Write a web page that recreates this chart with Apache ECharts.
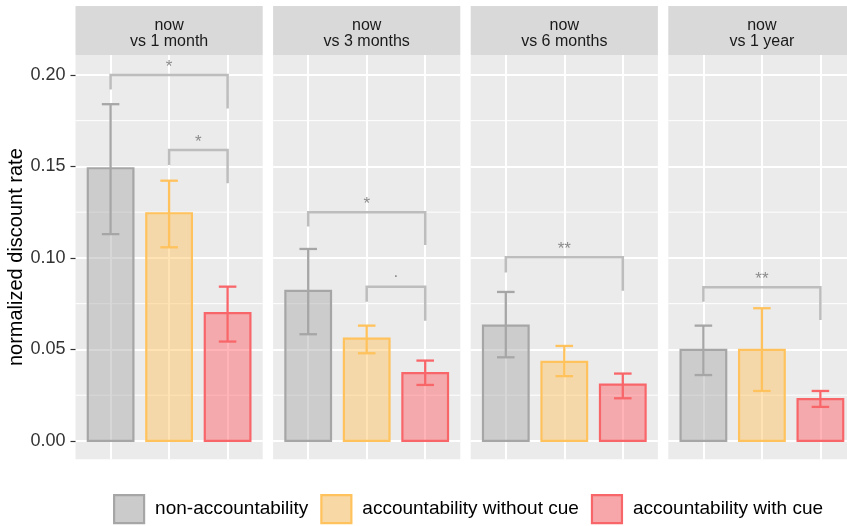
<!DOCTYPE html>
<html>
<head>
<meta charset="utf-8">
<title>normalized discount rate</title>
<script src="https://cdn.jsdelivr.net/npm/echarts@6/dist/echarts.min.js"></script>
<style>
  html, body { margin: 0; padding: 0; background: #ffffff; }
  #chart { width: 847px; height: 526px; }
</style>
</head>
<body>
<div id="chart"></div>
<script>
// Facet labels and the three conditions
const panels = ['now\nvs 1 month', 'now\nvs 3 months', 'now\nvs 6 months', 'now\nvs 1 year'];
const groups = ['non-accountability', 'accountability without cue', 'accountability with cue'];

// Mean normalized discount rate per facet, with error-bar bounds
const meanNon   = [0.149, 0.082, 0.063, 0.0497];
const lowNon    = [0.113, 0.0583, 0.0457, 0.036];
const highNon   = [0.184, 0.1049, 0.0814, 0.063];
const meanNoCue = [0.1244, 0.0559, 0.0432, 0.0497];
const lowNoCue  = [0.1058, 0.0479, 0.0354, 0.0273];
const highNoCue = [0.1422, 0.063, 0.0519, 0.0725];
const meanCue   = [0.0698, 0.037, 0.0308, 0.0228];
const lowCue    = [0.0543, 0.0306, 0.0233, 0.0186];
const highCue   = [0.0843, 0.0439, 0.0368, 0.0273];

// Significance brackets: facet, compared groups (1-based), bar height, leg ends, label
const bracketPanel    = [0, 0, 1, 1, 2, 3];
const bracketFrom     = [1, 2, 1, 2, 1, 1];
const bracketTo       = [3, 3, 3, 3, 3, 3];
const bracketY        = [0.2, 0.159, 0.125, 0.0842, 0.1004, 0.084];
const bracketLeftEnd  = [0.192, 0.1508, 0.1171, 0.076, 0.092, 0.0761];
const bracketRightEnd = [0.1817, 0.1408, 0.1071, 0.0657, 0.082, 0.0661];
const bracketLabel    = ['*', '*', '*', '.', '**', '**'];

// Y axis extent and minor breaks
const yMin = -0.01004;
const yMax = 0.21088;
const minorBreaks = [0.025, 0.075, 0.125, 0.175];

const means = [meanNon, meanNoCue, meanCue];
const lows  = [lowNon, lowNoCue, lowCue];
const highs = [highNon, highNoCue, highCue];

const strokeColors = ['#A6A6A6', '#FFC25C', '#F8666A'];
const fillColors   = ['rgba(166,166,166,0.45)', 'rgba(255,194,92,0.45)', 'rgba(255,90,95,0.45)'];
const keyColors    = ['#CBCBCB', '#F8D9A6', '#F7A7AA'];

const FONT = '"Liberation Sans", Arial, sans-serif';
const PANEL_LEFT0 = 75.5, PANEL_STEP = 197.6, PANEL_W = 187.2;
const PANEL_TOP = 55, PANEL_H = 404.3;
const STRIP_TOP = 6, STRIP_H = 49;
const BAR_HALF = 0.39, CAP_HALF = 0.15;

const chart = echarts.init(document.getElementById('chart'), null, { renderer: 'canvas' });

const grids = [], xAxes = [], yAxes = [], series = [], graphics = [];

panels.forEach((label, p) => {
  const left = PANEL_LEFT0 + p * PANEL_STEP;
  grids.push({
    left: left, top: PANEL_TOP, width: PANEL_W, height: PANEL_H,
    outerBoundsMode: 'none',
    show: true, backgroundColor: '#EBEBEB', borderWidth: 0, containLabel: false
  });
  xAxes.push({
    gridIndex: p, type: 'value', min: 0.4, max: 3.6, minInterval: 1, maxInterval: 1,
    axisLine: { show: false }, axisTick: { show: false }, axisLabel: { show: false },
    splitLine: { show: true, showMinLine: false, showMaxLine: false, lineStyle: { color: '#FFFFFF', width: 2 } }
  });
  yAxes.push({
    gridIndex: p, type: 'value', min: yMin, max: yMax, minInterval: 0.05, maxInterval: 0.05,
    axisLine: { show: false },
    axisTick: { show: p === 0, length: 5, lineStyle: { color: '#333333', width: 1.2 } },
    axisLabel: {
      show: p === 0, showMinLabel: false, showMaxLabel: false, margin: 10,
      color: '#333333', fontSize: 18, fontFamily: FONT,
      formatter: v => v.toFixed(2)
    },
    splitLine: { show: true, showMinLine: false, showMaxLine: false, lineStyle: { color: '#FFFFFF', width: 2 } },
    name: p === 0 ? 'normalized discount rate' : '',
    nameLocation: 'middle', nameGap: 47,
    nameTextStyle: { color: '#000000', fontSize: 20, fontFamily: FONT }
  });

  // minor horizontal grid lines
  series.push({
    type: 'custom', xAxisIndex: p, yAxisIndex: p, silent: true, z: 1,
    data: minorBreaks.map(v => [v]),
    renderItem: (params, api) => {
      const a = api.coord([0.4, api.value(0)]);
      const b = api.coord([3.6, api.value(0)]);
      return { type: 'line', shape: { x1: a[0], y1: a[1], x2: b[0], y2: b[1] },
               style: { stroke: '#FFFFFF', lineWidth: 1 } };
    }
  });

  // bars with error bars, one series per condition
  groups.forEach((g, k) => {
    series.push({
      name: g, type: 'custom', xAxisIndex: p, yAxisIndex: p, z: 2,
      itemStyle: { color: fillColors[k], borderColor: strokeColors[k], borderWidth: 2.2 },
      data: [[k + 1, means[k][p], lows[k][p], highs[k][p]]],
      renderItem: (params, api) => {
        const x = api.value(0), m = api.value(1), lo = api.value(2), hi = api.value(3);
        const tl = api.coord([x - BAR_HALF, m]);
        const br = api.coord([x + BAR_HALF, 0]);
        const top = api.coord([x, hi]);
        const bot = api.coord([x, lo]);
        const cl = api.coord([x - CAP_HALF, hi])[0];
        const cr = api.coord([x + CAP_HALF, hi])[0];
        const s = { stroke: strokeColors[k], lineWidth: 2.3 };
        return {
          type: 'group',
          children: [
            { type: 'rect', shape: { x: tl[0], y: tl[1], width: br[0] - tl[0], height: br[1] - tl[1] },
              style: { fill: fillColors[k], stroke: strokeColors[k], lineWidth: 2.2 } },
            { type: 'line', shape: { x1: top[0], y1: top[1], x2: bot[0], y2: bot[1] }, style: s },
            { type: 'line', shape: { x1: cl, y1: top[1], x2: cr, y2: top[1] }, style: s },
            { type: 'line', shape: { x1: cl, y1: bot[1], x2: cr, y2: bot[1] }, style: s }
          ]
        };
      }
    });
  });

  // significance brackets for this facet
  const idx = bracketPanel.map((q, i) => q === p ? i : -1).filter(i => i >= 0);
  series.push({
    type: 'custom', xAxisIndex: p, yAxisIndex: p, silent: true, z: 3,
    data: idx.map(i => [bracketFrom[i], bracketTo[i], bracketY[i], bracketLeftEnd[i], bracketRightEnd[i], i]),
    renderItem: (params, api) => {
      const f = api.value(0), t = api.value(1), y = api.value(2);
      const i = api.value(5);
      const p1 = api.coord([f, api.value(3)]);
      const p2 = api.coord([f, y]);
      const p3 = api.coord([t, y]);
      const p4 = api.coord([t, api.value(4)]);
      const txt = bracketLabel[i];
      const lift = txt === '.' ? 15 : 8;
      return {
        type: 'group',
        children: [
          { type: 'polyline', shape: { points: [p1, p2, p3, p4] },
            style: { stroke: '#BDBDBD', lineWidth: 2.5, fill: null } },
          { type: 'text', x: (p2[0] + p3[0]) / 2, y: p2[1] - lift,
            style: { text: txt, fill: '#8C8C8C', fontSize: 17, fontFamily: FONT,
                     align: 'center', verticalAlign: 'middle' } }
        ]
      };
    }
  });

  // facet strip
  graphics.push({
    type: 'rect', left: left, top: STRIP_TOP, z: 0,
    shape: { width: PANEL_W, height: STRIP_H }, style: { fill: '#D9D9D9' }
  });
  graphics.push({
    type: 'text', x: left + PANEL_W / 2, y: STRIP_TOP + STRIP_H / 2 + 3.5, z: 1,
    style: { text: label, fill: '#1A1A1A', fontSize: 16, fontFamily: FONT, lineHeight: 16,
             align: 'center', verticalAlign: 'middle' }
  });
});

chart.setOption({
  animation: false,
  backgroundColor: '#FFFFFF',
  grid: grids,
  xAxis: xAxes,
  yAxis: yAxes,
  series: series,
  graphic: graphics,
  legend: {
    left: 113, top: 494, orient: 'horizontal', padding: 0,
    itemWidth: 30, itemHeight: 28, itemGap: 12, icon: 'rect',
    selectedMode: false,
    textStyle: { color: '#000000', fontSize: 19, fontFamily: FONT, padding: [2, 0, 0, 6] },
    data: groups.map((g, k) => ({
      name: g,
      itemStyle: { color: keyColors[k], borderColor: strokeColors[k], borderWidth: 2.2 }
    }))
  }
});
</script>
</body>
</html>
